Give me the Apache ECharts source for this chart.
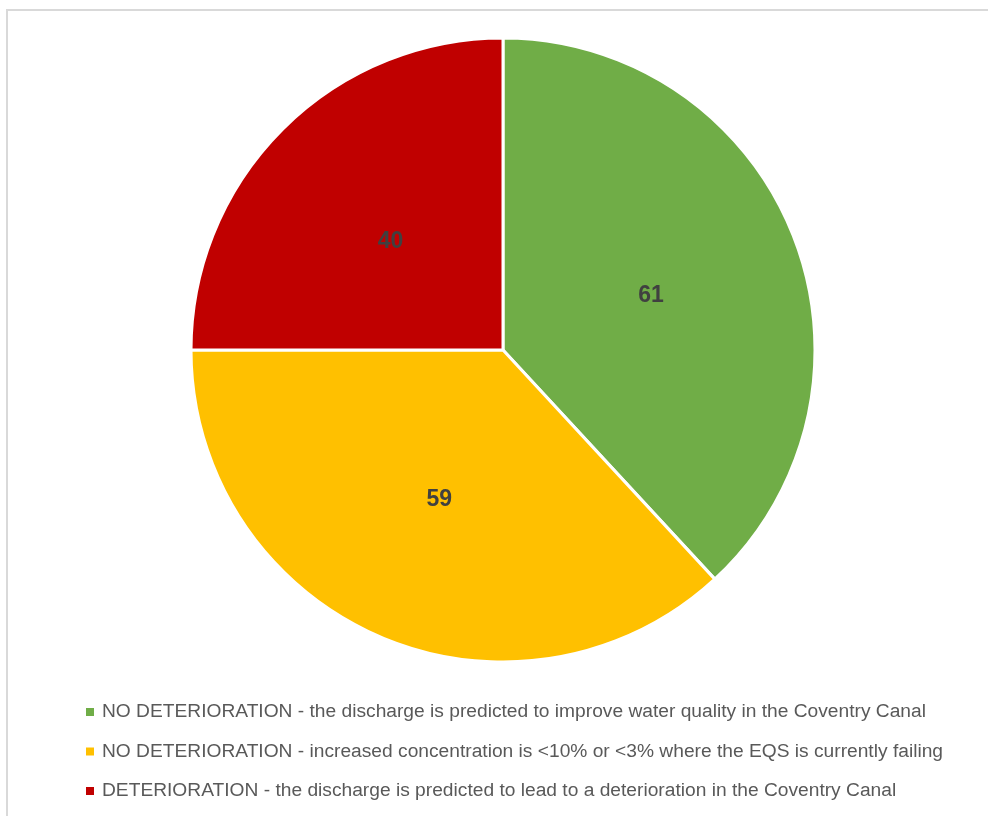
<!DOCTYPE html>
<html><head><meta charset="utf-8">
<script src="https://cdn.jsdelivr.net/npm/echarts@6/dist/echarts.min.js"></script>
<style>html,body{margin:0;padding:0;background:#fff}#c{width:988px;height:816px}</style>
</head><body><div id="c"></div>
<script>
const categories = [
  "NO DETERIORATION - the discharge is predicted to improve water quality in the Coventry Canal",
  "NO DETERIORATION - increased concentration is <10% or <3% where the EQS is currently failing",
  "DETERIORATION - the discharge is predicted to lead to a deterioration in the Coventry Canal"
];
const values = [61, 59, 40];
const colors = ["#70AD47", "#FFC000", "#C00000"];

const chart = echarts.init(document.getElementById('c'), null, {renderer: 'canvas'});
chart.setOption({
  animation: false,
  backgroundColor: '#fff',
  graphic: [{
    type: 'rect', silent: true,
    shape: {x: 7, y: 10, width: 1000, height: 900},
    style: {fill: 'none', stroke: '#d9d9d9', lineWidth: 2}
  }],
  legend: {
    orient: 'vertical', left: 81, top: 696,
    itemWidth: 8, itemHeight: 8, itemGap: 17.5,
    icon: 'rect',
    itemStyle: {borderWidth: 0},
    textStyle: {fontFamily: 'Liberation Sans', fontSize: 19.2, color: '#595959', lineHeight: 22, padding: [0, 0, 0, 3]},
    data: categories
  },
  series: [{
    type: 'pie',
    center: [503, 350], radius: [0, 312],
    startAngle: 90, clockwise: true,
    itemStyle: {borderColor: '#fff', borderWidth: 3},
    label: {show: true, position: 'inside', formatter: '{c}', offset: [0, 4],
      fontFamily: 'Liberation Sans', fontWeight: 'bold', fontSize: 23, color: '#404040'},
    labelLine: {show: false},
    emphasis: {disabled: true},
    data: categories.map((n, i) => ({name: n, value: values[i], itemStyle: {color: colors[i]}}))
  }]
});
</script></body></html>
